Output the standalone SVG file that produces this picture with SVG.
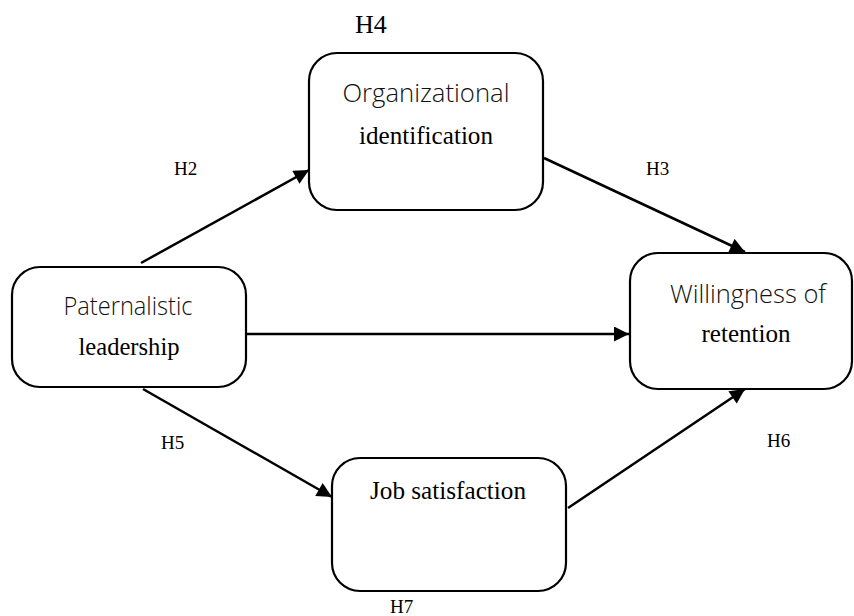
<svg xmlns="http://www.w3.org/2000/svg" width="854" height="616" viewBox="0 0 854 616">
<defs>
<style>
.box{fill:#fff;stroke:#000;stroke-width:2.2}
.conn{stroke:#000;stroke-width:2.5;fill:none;marker-end:url(#ah)}
.serif{font-family:"Liberation Serif","Times New Roman",serif;fill:#000}
.light{font-family:"Open Sans","Noto Sans",sans-serif;font-weight:300;fill:#111}
.lbl{font-family:"Liberation Serif","Times New Roman",serif;font-size:19px;fill:#000}
</style>
<marker id="ah" viewBox="0 0 10 10" refX="10" refY="5" markerWidth="6.4" markerHeight="6" markerUnits="strokeWidth" orient="auto">
<path d="M0,0 L10,5 L0,10 z" fill="#000"/>
</marker>
</defs>
<rect width="854" height="616" fill="#fff"/>
<g id="connectors">
<line class="conn" x1="141" y1="263" x2="309" y2="170"/>
<line class="conn" x1="544" y1="158" x2="745" y2="252"/>
<line class="conn" x1="247" y1="334" x2="629" y2="334"/>
<line class="conn" x1="143" y1="389" x2="332" y2="497"/>
<line class="conn" x1="568" y1="508" x2="745" y2="389"/>
</g>
<g id="node-org">
<rect class="box" x="309" y="53" width="234" height="157" rx="28"/>
<text class="light" x="426" y="102" font-size="25" text-anchor="middle" textLength="167" lengthAdjust="spacingAndGlyphs">Organizational</text>
<text class="serif" x="426" y="144" font-size="25" text-anchor="middle" textLength="134" lengthAdjust="spacingAndGlyphs">identification</text>
</g>
<g id="node-pat">
<rect class="box" x="12" y="267" width="234" height="120" rx="28"/>
<text class="light" x="128" y="315" font-size="25" text-anchor="middle" textLength="129" lengthAdjust="spacingAndGlyphs">Paternalistic</text>
<text class="serif" x="129" y="355" font-size="25" text-anchor="middle" textLength="101" lengthAdjust="spacingAndGlyphs">leadership</text>
</g>
<g id="node-will">
<rect class="box" x="630" y="253" width="222" height="136" rx="28"/>
<text class="light" x="748" y="303" font-size="25" text-anchor="middle" textLength="156" lengthAdjust="spacingAndGlyphs">Willingness of</text>
<text class="serif" x="746" y="342" font-size="25" text-anchor="middle" textLength="89" lengthAdjust="spacingAndGlyphs">retention</text>
</g>
<g id="node-job">
<rect class="box" x="332" y="458" width="234" height="133" rx="28"/>
<text class="serif" x="448" y="499" font-size="25" text-anchor="middle" textLength="156" lengthAdjust="spacingAndGlyphs">Job satisfaction</text>
</g>
<g id="labels">
<text class="serif" x="355" y="33" font-size="26">H4</text>
<text class="lbl" x="174" y="175">H2</text>
<text class="lbl" x="646" y="175">H3</text>
<text class="lbl" x="161" y="449">H5</text>
<text class="lbl" x="767" y="447">H6</text>
<text class="lbl" x="390" y="613">H7</text>
</g>
</svg>
